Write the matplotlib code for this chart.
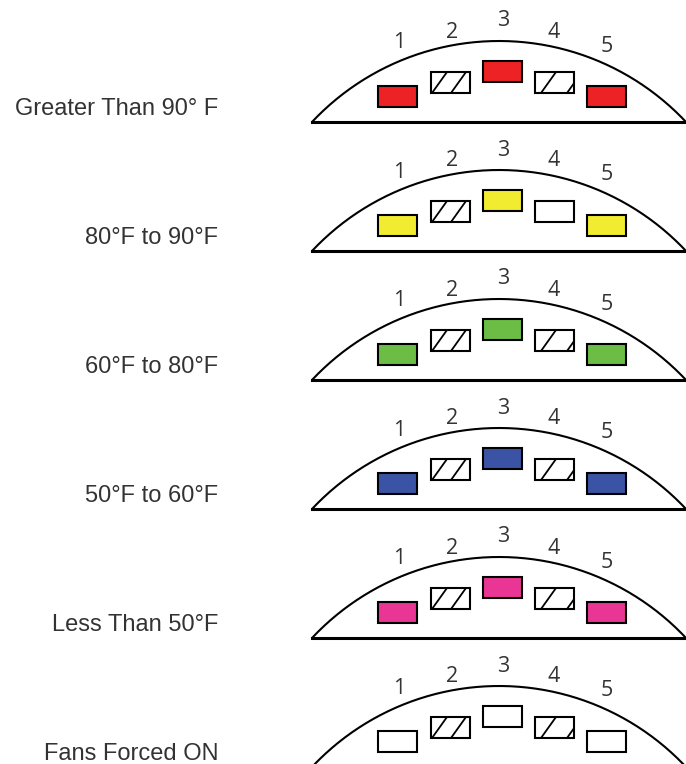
import numpy as np
import matplotlib
matplotlib.use("Agg")
import matplotlib.pyplot as plt
from matplotlib.patches import Rectangle

# ------------------------------------------------------------
# Data: one row per temperature band
# ------------------------------------------------------------
row_labels = ["Greater Than 90° F", "80°F to 90°F", "60°F to 80°F",
              "50°F to 60°F", "Less Than 50°F", "Fans Forced ON"]
row_colors = ["#ED2224", "#F2EC30", "#6BBD45", "#3A53A4", "#E93594", "white"]
# state of lamps 2 and 4 (True = hatched / blocked)
lamp2_hatched = [True, True, True, True, True, True]
lamp4_hatched = [True, False, True, True, True, True]
lamp_numbers = ["1", "2", "3", "4", "5"]

# ------------------------------------------------------------
# Layout (pixel units of the 686x764 canvas)
# ------------------------------------------------------------
W, H = 686, 764
row_step = 129
base0 = 122
dome_cx = 499
dome_half = 187
dome_h = 81
rect_w, rect_h = 39, 21
rect_cx = [397.5, 450.5, 502.5, 554.5, 606.5]
rect_lift = [15, 29, 40, 29, 15]
num_dx = [1.5, 1.5, 0.5, -0.5, 0.5]
num_lift = [79, 90, 101, 90, 76]
# start offsets (from the left edge, at the bottom) of the slash lines
slash_starts = {1: [1, 20], 3: [6, 32]}
slash_run = 15

fig = plt.figure(figsize=(W / 100, H / 100), dpi=100)
ax = fig.add_axes([0, 0, 1, 1])
ax.set_xlim(0, W)
ax.set_ylim(H, 0)
ax.axis("off")

R = (dome_half ** 2 + dome_h ** 2) / (2 * dome_h)

for i, label in enumerate(row_labels):
    base = base0 + i * row_step

    # dome outline
    cy = base - dome_h + R
    half_ang = np.arcsin(dome_half / R)
    t = np.linspace(-half_ang, half_ang, 200)
    ax.plot(dome_cx + R * np.sin(t), cy - R * np.cos(t), color="black", lw=1.5,
            solid_capstyle="butt")
    ax.plot([dome_cx - dome_half, W + 5], [base, base], color="black", lw=2.2)

    # row label
    ax.text(218, base - 13, label, ha="right", va="center", fontsize=17,
            family="Liberation Sans", color="#333333")

    # lamps
    for k in range(5):
        hatched = (k == 1 and lamp2_hatched[i]) or (k == 3 and lamp4_hatched[i])
        face = "white" if k in (1, 3) else row_colors[i]
        x0 = rect_cx[k] - rect_w / 2
        yb = base - rect_lift[k]
        r = Rectangle((x0, yb - rect_h), rect_w, rect_h, facecolor=face,
                      edgecolor="black", lw=1.5, zorder=2)
        ax.add_patch(r)
        if hatched:
            for s in slash_starts[k]:
                ln, = ax.plot([x0 + s, x0 + s + slash_run], [yb, yb - rect_h],
                              color="black", lw=1.3, zorder=2.5)
                ln.set_clip_path(r)
        ax.text(rect_cx[k] + num_dx[k], base - num_lift[k], lamp_numbers[k],
                ha="center", va="center", fontsize=15.5, family="Open Sans",
                color="#333333")

fig.savefig("out.png", dpi=100)
